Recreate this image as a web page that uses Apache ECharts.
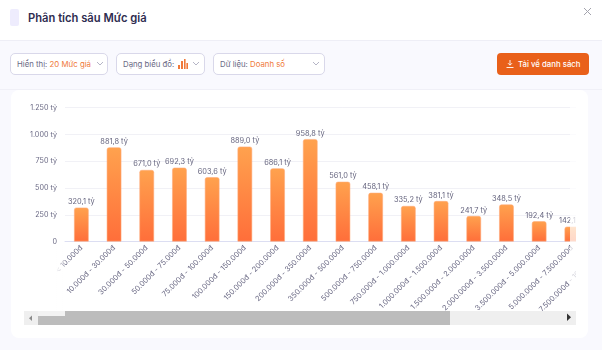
<!DOCTYPE html>
<html>
<head>
<meta charset="utf-8">
<script src="https://cdn.jsdelivr.net/npm/echarts@6/dist/echarts.min.js"></script>
<style>
html, body { margin: 0; padding: 0; width: 602px; height: 350px; overflow: hidden; background: #f9f9fe; font-family: Inter, sans-serif; }
.abs { position: absolute; }
.head { left: 0; top: 0; width: 602px; height: 40px; background: #fff; border-bottom: 1px solid #eeeef6; }
.icon { left: 10px; top: 9px; width: 9px; height: 17px; border-radius: 2px; background: #eeecfd; }
.title { left: 28px; top: 10px; font-size: 11.2px; line-height: 16px; font-weight: 600; color: #2e2c50; white-space: nowrap; }
.rule { left: 0; top: 89px; width: 602px; height: 1px; background: #f0f0f7; }
.sel { top: 53px; height: 22px; box-sizing: border-box; background: #fff; border: 1px solid #d9d8ea; border-radius: 5px; font-size: 7.8px; line-height: 20px; color: #6a6984; padding-left: 6px; white-space: nowrap; }
.sel b { font-weight: 400; color: #f0793a; }
.sel svg { position: absolute; top: 7px; }
.btn { left: 497px; top: 53px; width: 92px; height: 22px; border-radius: 4px; background: #e9601a; color: #fff; font-size: 7.8px; font-weight: 500; line-height: 22px; white-space: nowrap; }
.panel { left: 11px; top: 90px; width: 577px; height: 248px; background: #fff; border-radius: 8px; }
.clip { left: 24px; top: 92px; width: 552px; height: 219px; overflow: hidden; }
#chart { position: absolute; left: 0; top: 0; width: 640px; height: 219px; }
.track { left: 24px; top: 311px; width: 552px; height: 13.5px; background: #efefef; }
.thumb { left: 38px; top: 311px; width: 412px; height: 13.5px; background: #bcbcbc; }
.notch { left: 38px; top: 311px; width: 27px; height: 5px; background: #f3f3f3; }
.fade-r { left: 570px; top: 92px; width: 6px; height: 219px; background: rgba(255,255,255,0.72); }
.fade-l { left: 56px; top: 245px; width: 9px; height: 66px; background: linear-gradient(to right, #fff, rgba(255,255,255,0.2)); }
</style>
</head>
<body>
<div class="abs head"></div>
<div class="abs icon"></div>
<div class="abs title">Phân tích sâu Mức giá</div>
<svg class="abs" style="left:583px;top:7px" width="9" height="9"><path d="M1 1L8 8M8 1L1 8" stroke="#a3a3ad" stroke-width="1" fill="none"/></svg>
<div class="abs rule"></div>

<div class="abs sel" style="left:10px;width:98px">Hiển thị: <b>20 Mức giá</b>
  <svg style="left:85px" width="8" height="6"><path d="M1 1L4 4L7 1" stroke="#b5b5c6" fill="none"/></svg></div>
<div class="abs sel" style="left:116px;width:89px">Dạng biểu đồ:
  <svg style="left:61px;top:5px" width="10" height="10"><path d="M0 6h2v4H0zM3 2h2v8H3zM6 0h1.6v10H6zM8.4 4H10v6H8.4z" fill="#f0793a"/></svg>
  <svg style="left:75px" width="8" height="6"><path d="M1 1L4 4L7 1" stroke="#b5b5c6" fill="none"/></svg></div>
<div class="abs sel" style="left:213px;width:112px">Dữ liệu: <b>Doanh số</b>
  <svg style="left:98px" width="8" height="6"><path d="M1 1L4 4L7 1" stroke="#b5b5c6" fill="none"/></svg></div>
<div class="abs btn"><svg class="abs" style="left:9px;top:7px" width="8" height="8"><path d="M4 0V5M2 3.2L4 5.2L6 3.2M0.5 7.5H7.5" stroke="#fff" stroke-width="0.9" fill="none"/></svg><span class="abs" style="left:21px">Tải về danh sách</span></div>

<div class="abs panel"></div>
<div class="abs clip"><div id="chart"></div></div>
<div class="abs fade-r"></div>
<div class="abs fade-l"></div>
<div class="abs track"></div>
<div class="abs thumb"></div>
<div class="abs notch"></div>
<svg class="abs" style="left:28px;top:315px" width="6" height="7"><path d="M4 0.5V6L1 3.2z" fill="#8a8a8a"/></svg>
<svg class="abs" style="left:566px;top:313px" width="6" height="9"><path d="M1 0.5V8L5 4.2z" fill="#333"/></svg>

<script>
var categories = ['< 10.000đ', '10.000đ - 30.000đ', '30.000đ - 50.000đ', '50.000đ - 75.000đ',
    '75.000đ - 100.000đ', '100.000đ - 150.000đ', '150.000đ - 200.000đ', '200.000đ - 350.000đ',
    '350.000đ - 500.000đ', '500.000đ - 750.000đ', '750.000đ - 1.000.000đ', '1.000.000đ - 1.500.000đ',
    '1.500.000đ - 2.000.000đ', '2.000.000đ - 3.500.000đ', '3.500.000đ - 5.000.000đ',
    '5.000.000đ - 7.500.000đ', '7.500.000đ - 10.000.000đ'];
// last one is scrolled out of view, only its label shows
var revenue = [320.1, 881.8, 671.0, 692.3, 603.6, 889.0, 686.1, 958.8, 561.0, 458.1, 335.2, 381.1,
    241.7, 348.5, 192.4, 142.1, null];
var yTicks = { min: 0, max: 1250, interval: 250 };

var chart = echarts.init(document.getElementById('chart'), null, { renderer: 'canvas' });

function viNumber(v) {
    return String(v).replace(/\B(?=(\d{3})+$)/g, '.');
}

chart.setOption({
    animation: false,
    textStyle: { fontFamily: 'Inter' },
    grid: { left: 41, top: 15.7, width: 32.7 * categories.length, height: 134, outerBoundsMode: 'none' },
    xAxis: {
        type: 'category',
        data: categories,
        axisTick: { show: false },
        axisLine: { lineStyle: { color: '#dcdef2', width: 1 } },
        axisLabel: { rotate: 45, interval: 0, fontSize: 7.4, color: '#6a6984', margin: 5 }
    },
    yAxis: {
        type: 'value',
        min: yTicks.min,
        max: yTicks.max,
        interval: yTicks.interval,
        axisLine: { show: false },
        axisTick: { show: false },
        splitLine: { lineStyle: { color: '#f1f1f6', width: 1 } },
        axisLabel: {
            fontSize: 7.2,
            color: '#6a6984',
            margin: 8,
            formatter: function (v) { return v === 0 ? '0' : viNumber(v) + ' tỷ'; }
        }
    },
    series: [{
        type: 'bar',
        data: revenue,
        barWidth: 15,
        itemStyle: {
            borderRadius: [2, 2, 0, 0],
            borderColor: 'rgba(255,170,120,0.55)',
            borderWidth: 1,
            color: new echarts.graphic.LinearGradient(0, 0, 0, 1, [
                { offset: 0, color: '#ffa24e' },
                { offset: 1, color: '#ff6e3a' }
            ])
        },
        label: {
            show: true,
            position: 'top',
            distance: 2,
            fontSize: 7.4,
            color: '#66657f',
            formatter: function (p) { return p.value.toFixed(1).replace('.', ',') + ' tỷ'; }
        }
    }]
});
</script>
</body>
</html>
